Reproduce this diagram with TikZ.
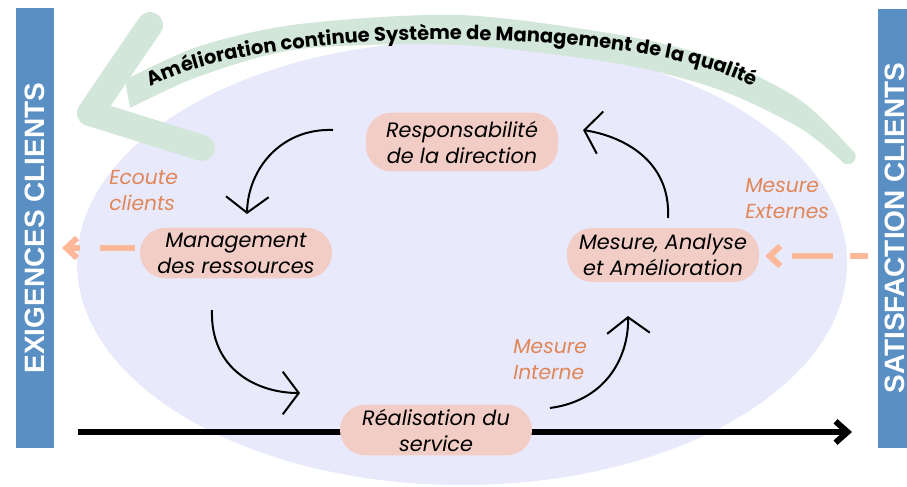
\documentclass[tikz,border=0pt]{standalone}
\usepackage{fontspec}
\setmainfont{Poppins}
\newfontfamily\barfont{Liberation Sans}
\usetikzlibrary{arrows.meta,decorations.text,calc}
\definecolor{lav}{HTML}{E9E9FC}
\definecolor{grn}{HTML}{D2E6DA}
\definecolor{pnk}{HTML}{F2CDC5}
\definecolor{blu}{HTML}{5A8FC3}
\definecolor{org}{HTML}{FDB899}
\definecolor{orgtxt}{HTML}{E08658}
\begin{document}
\begin{tikzpicture}[x=0.75pt,y=-0.75pt,
  pill/.style={fill=pnk, rounded corners=19pt, minimum width=144pt, align=center,
    font=\itshape\fontsize{15.6}{19.5}\selectfont, inner sep=1pt},
  lbl/.style={text=orgtxt, align=left, anchor=north west, inner sep=0pt,
    font=\itshape\fontsize{15.2}{19.5}\selectfont},
  bartext/.style={text=white, rotate=90, font=\barfont\bfseries\fontsize{21}{21}\selectfont},
  flow/.style={line width=1.5pt, -{Straight Barb[length=12pt,width=32pt,line width=1.5pt]}},
  odash/.style={draw=org, line width=4.5pt, -{Straight Barb[length=8pt,width=15pt,line width=4.5pt]}}]
\useasboundingbox (0,0) rectangle (907,486);
\fill[white] (0,0) rectangle (907,486);
% ellipse background
\fill[lav] (462,263) ellipse [x radius=288.75pt, y radius=166.5pt];
% green curved arrow
\fill[grn] plot[smooth] coordinates {(125,80) (200,46) (300,24) (460,15) (620,35) (720,60) (800,100) (851,149)}
  -- plot[smooth] coordinates {(845,164) (800,128) (720,90) (620,64) (460,45) (300,49) (200,76) (130,108)} -- cycle;
\fill[grn] (848,156.5) circle[radius=5.8pt];
\draw[grn, line width=19.5pt, line cap=round, line join=round] (150,25) -- (90,113) -- (202,148);
\path[decorate, decoration={text along path, text align=center,
  text={|\bfseries\fontsize{14.6}{14.6}\selectfont|Amélioration continue Système de Management de la qualité}}]
  (140,93) .. controls (245,22) and (659,22) .. (764,93);
% side bars
\fill[blu] (16,8) rectangle (54,448);
\node[bartext] (exig) at (35,228) {EXIGENCES CLIENTS};
\fill[blu] (878,9) rectangle (916,448);
\node[bartext] (satis) at (895,228) {SATISFACTION CLIENTS};
% main time arrow
\coordinate (tl) at (78,432);
\coordinate (tr) at (852,432);
\draw[line width=4.5pt, -{Straight Barb[length=9pt,width=16pt,line width=4.5pt]}] (tl) -- (tr);
% nodes
\node[pill, minimum height=44pt] (resp) at (462,142) {Responsabilité\\de la direction};
\node[pill, minimum height=38pt] (mgmt) at (236,253) {Management\\des ressources};
\node[pill, minimum height=40.5pt] (mes) at (663,255) {Mesure, Analyse\\et Amélioration};
\node[pill, minimum height=38pt] (real) at (436,430) {Réalisation du\\service};
% curved flow arrows
\coordinate (a1s) at (333,130); \coordinate (a1e) at (247,214);
\draw[flow] (a1s) .. controls (282,128) and (248,168) .. (a1e);
\coordinate (a2s) at (212,310); \coordinate (a2e) at (300,393);
\draw[flow] (a2s) .. controls (210,370) and (258,393) .. (a2e);
\coordinate (a3s) at (550,408); \coordinate (a3e) at (628,316);
\draw[flow] (a3s) .. controls (610,400) and (629,352) .. (a3e);
\coordinate (a4s) at (668,218); \coordinate (a4e) at (583,130);
\draw[flow] (a4s) .. controls (671,160) and (622,136) .. (a4e);
% dashed orange arrows
\coordinate (ol) at (62,248);
\draw[odash, dash pattern=on 26pt off 15pt] ($(mgmt.west)+(-5,-5)$) -- (ol);
\coordinate (or) at (868,256);
\draw[odash, dash pattern=on 13.5pt off 12.75pt on 30.75pt off 12.75pt] (or) -- ($(mes.east)+(6,1)$);
% labels
\node[lbl] (ecoute) at (109,170) {Ecoute\\clients};
\node[lbl] (mext) at (745,178) {Mesure\\Externes};
\node[lbl] (mint) at (513,339) {Mesure\\Interne};
\end{tikzpicture}
\end{document}
